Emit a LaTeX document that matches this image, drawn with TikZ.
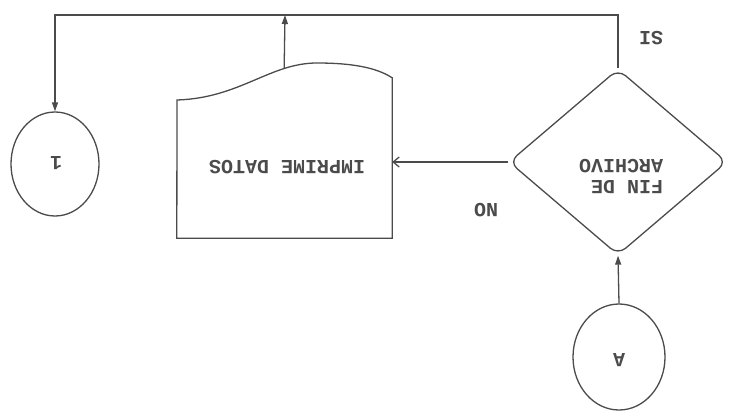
\documentclass[tikz,border=0pt]{standalone}
\usepackage{fontspec}
\setmonofont{Liberation Mono}
\usetikzlibrary{arrows.meta,shapes.geometric,calc}
\definecolor{ink}{RGB}{75,75,75}

\tikzset{
  line/.style={draw=ink,line width=1.3pt},
  flow/.style={line,-{Triangle[length=9pt,width=6pt]}},
  conn/.style={line,ellipse,inner sep=0pt},
  decide/.style={line,diamond,minimum width=218pt,minimum height=186pt,
                 inner sep=0pt,rounded corners=10pt},
  txt/.style={text=ink,font=\fontsize{20}{21}\selectfont\ttfamily\bfseries,
              rotate=180},
}

\begin{document}
\begin{tikzpicture}[x=1pt,y=-1pt]
  \useasboundingbox (0,0) rectangle (733,415);

  % connectors
  \node[conn,minimum width=92pt,minimum height=106pt] (cA) at (619,357) {};
  \node[txt] at (619,360) {A};
  \node[conn,minimum width=88pt,minimum height=104pt] (c1) at (55,164) {};
  \node[txt] at (56,163) {1};

  % decision
  \node[decide] (dec) at (618,162) {};
  \node[txt,align=left] at (621,176) {FIN DE\\ARCHIVO};

  % document box (wavy side on top)
  \node[minimum width=215pt,minimum height=160pt,inner sep=0pt] (imp) at (284.5,158) {};
  \draw[line] (imp.south west) -- (imp.south east) -- (imp.north east)
    .. controls (380,70) and (360,63) .. (317,63)
    .. controls (270,63) and (240,98) .. coordinate[pos=0.25] (wave) (177,100)
    -- cycle;
  \node[txt] at (287,167) {IMPRIME DATOS};

  \coordinate (rail) at (285,15);

  % arrows
  \draw[flow] (cA.north) -- (dec.south);
  \draw[line,-{Straight Barb[length=6pt,width=10pt]}] (dec.west) -- (dec.west -| imp.east);
  \draw[flow] (dec.north) -- (dec.north |- rail) -| (c1.north);
  \draw[flow] (wave) -- (rail);

  % labels
  \node[txt] at (651,38) {SI};
  \node[txt] at (486,210) {NO};
\end{tikzpicture}
\end{document}
